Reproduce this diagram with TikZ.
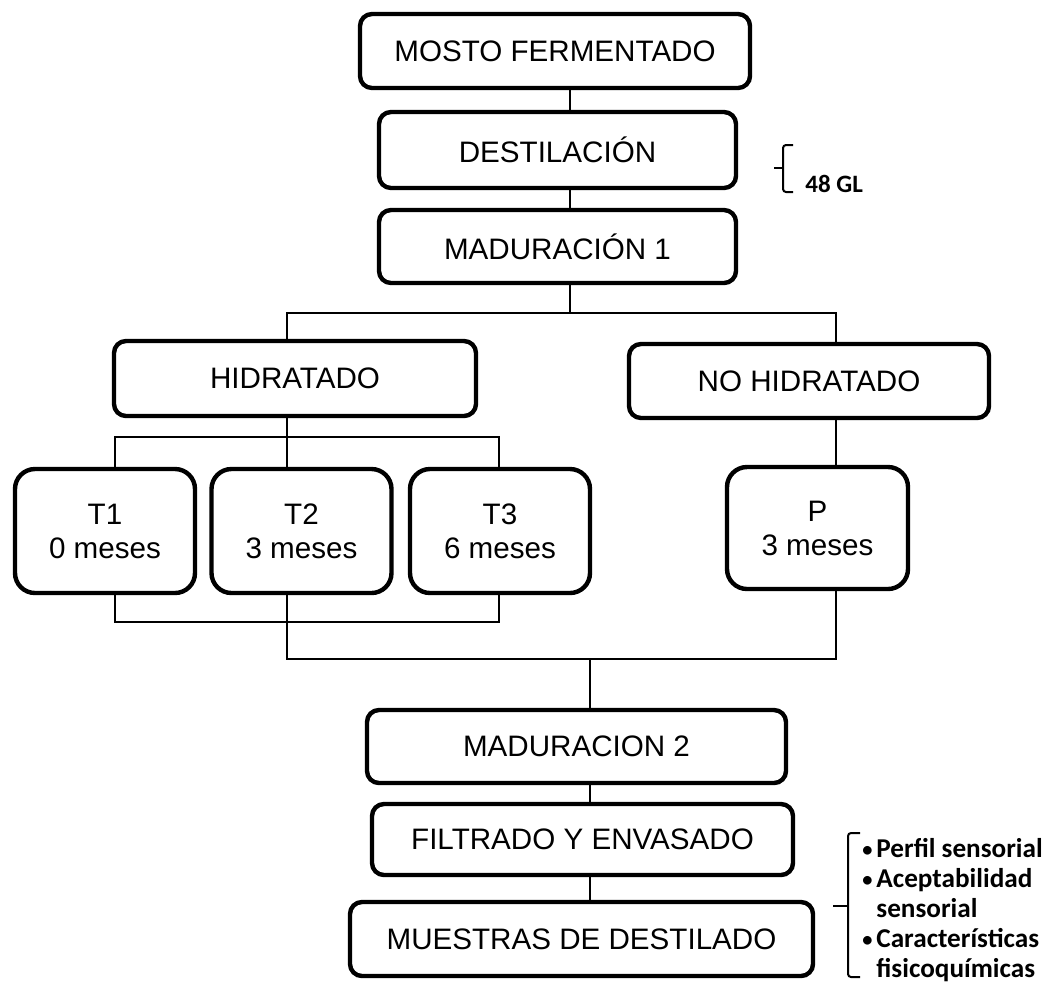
\documentclass[tikz,border=0pt]{standalone}
\usepackage{fontspec}
\setmainfont{Liberation Sans}
\newfontfamily\notefont{Carlito}
\usetikzlibrary{positioning,calc}
\newcommand{\itm}{\makebox[7pt][l]{\raisebox{0.4pt}{\scalebox{0.75}{\textbullet}}}}
\newcommand{\ind}{\makebox[7pt]{}}
\tikzset{
  box/.style={rounded corners=6pt, draw=black, line width=2.2pt, align=center, inner sep=0pt, minimum height=37pt, font=\fontsize{14.8}{17}\selectfont},
  tbox/.style={box, rounded corners=10pt, minimum width=90pt, minimum height=62pt},
  link/.style={line width=1pt, draw=black},
  brace/.style={line width=1pt, draw=black, rounded corners=1.5pt},
  note/.style={inner sep=0pt, align=left, font=\notefont\bfseries\fontsize{13.6}{15}\selectfont},
}
\begin{document}
\begin{tikzpicture}[x=0.5pt, y=-0.5pt]
  \useasboundingbox (0,0) rectangle (1053,997);
  % first stages
  \node[box, minimum width=195pt] (mosto) at (555,51) {MOSTO FERMENTADO};
  \node[box, minimum width=178.5pt, minimum height=38pt] (destil) at (557.5,150) {DESTILACIÓN};
  \node[box, minimum width=178.5pt, minimum height=36.5pt] (mad1) at (557.5,246.5) {MADURACIÓN 1};
  % two branches
  \node[box, minimum width=181pt, minimum height=37.5pt] (hidr) at (295,378.5) {HIDRATADO};
  \node[box, minimum width=180pt] (nohidr) at (809,381) {NO HIDRATADO};
  \node[tbox] (t1) at (105,531) {T1\\0 meses};
  \node[tbox] (t2) at (301.5,531) {T2\\3 meses};
  \node[tbox] (t3) at (500,531) {T3\\6 meses};
  \node[tbox, minimum width=90.5pt, minimum height=61pt] (p) at (817.5,528) {P\\3 meses};
  % last stages
  \node[box, minimum width=209.5pt, minimum height=36.5pt] (mad2) at (576.5,746.5) {MADURACION 2};
  \node[box, minimum width=210.5pt, minimum height=35.5pt] (filt) at (582.5,839.5) {FILTRADO Y ENVASADO};
  \node[box, minimum width=231.5pt] (muest) at (581.5,939) {MUESTRAS DE DESTILADO};
  % connector points
  \coordinate (split) at (570,313);
  \coordinate (hsplit) at (287,437);
  \coordinate (tjoin) at (287,622);
  \coordinate (join) at (590,659);
  \coordinate (t1col) at (115,0);
  \coordinate (t3col) at (499,0);
  \coordinate (pcol) at (836,0);
  % connectors
  \draw[link] (mosto.south -| split) -- (destil.north -| split);
  \draw[link] (destil.south -| split) -- (mad1.north -| split);
  \draw[link] (mad1.south -| split) -- (split);
  \draw[link] (hidr.north -| hsplit) |- (split) -| (nohidr.north -| pcol);
  \draw[link] (hidr.south -| hsplit) -- (hsplit);
  \draw[link] (t1.north -| t1col) |- (hsplit) -| (t3.north -| t3col);
  \draw[link] (hsplit) -- (t2.north -| hsplit);
  \draw[link] (nohidr.south -| pcol) -- (p.north -| pcol);
  \draw[link] (t1.south -| t1col) |- (tjoin) -| (t3.south -| t3col);
  \draw[link] (t2.south -| tjoin) |- (join) -| (p.south -| pcol);
  \draw[link] (join) -- (mad2.north -| join);
  \draw[link] (mad2.south -| join) -- (filt.north -| join);
  \draw[link] (filt.south -| join) -- (muest.north -| join);
  % side notes
  \draw[brace] (793,145) -- (783,145) -- (783,192) -- (793,192);
  \draw[brace] (783,168) -- (774,168);
  \node[note, font=\notefont\bfseries\fontsize{12.5}{15}\selectfont, anchor=base west] (gl) at (805,192) {48 GL};
  \draw[brace] (860,833) -- (848,833) -- (848,977) -- (860,977);
  \draw[brace] (848,906) -- (833,906);
  \node[note, anchor=base west] (evals) at (862,977) {\itm Perfil sensorial\\\itm Aceptabilidad\\\ind sensorial\\\itm Características\\\ind fisicoquímicas};
\end{tikzpicture}
\end{document}
